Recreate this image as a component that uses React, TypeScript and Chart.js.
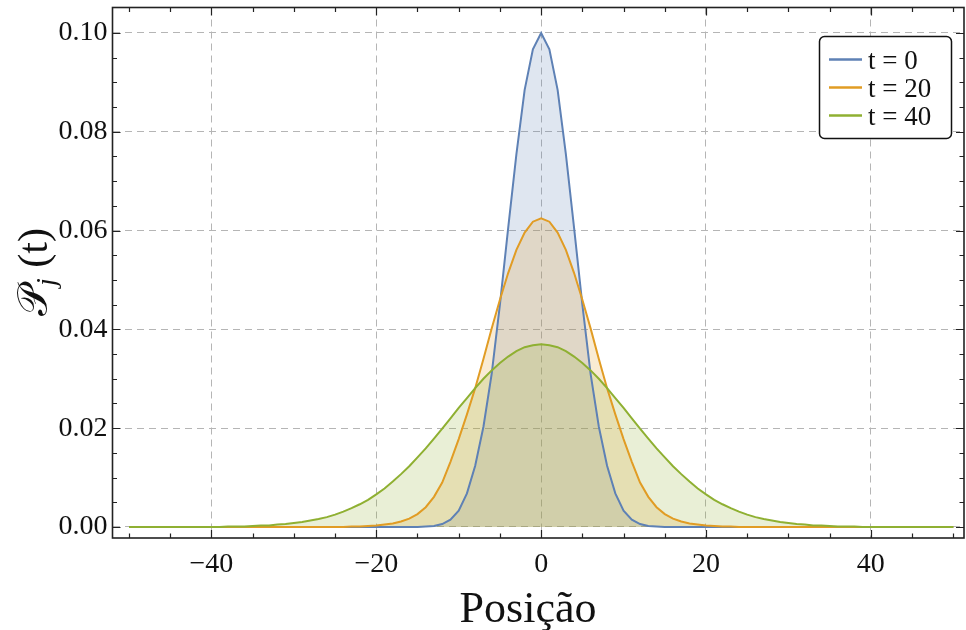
import React, { useEffect, useRef } from 'react';
import { Chart, registerables } from 'chart.js';

Chart.register(...registerables);

// ---------- data ----------
const positions = [
  -50, -49, -48, -47, -46, -45, -44, -43, -42, -41,
  -40, -39, -38, -37, -36, -35, -34, -33, -32, -31,
  -30, -29, -28, -27, -26, -25, -24, -23, -22, -21,
  -20, -19, -18, -17, -16, -15, -14, -13, -12, -11,
  -10, -9, -8, -7, -6, -5, -4, -3, -2, -1,
  0,
  1, 2, 3, 4, 5, 6, 7, 8, 9, 10,
  11, 12, 13, 14, 15, 16, 17, 18, 19, 20,
  21, 22, 23, 24, 25, 26, 27, 28, 29, 30,
  31, 32, 33, 34, 35, 36, 37, 38, 39, 40,
  41, 42, 43, 44, 45, 46, 47, 48, 49, 50,
];

const seriesLabels = ['t = 0', 't = 20', 't = 40'];

// t = 0
const probT0 = [
  0, 0, 0, 0, 0, 0, 0, 0, 0, 0,
  0, 0, 0, 0, 0, 0, 0, 0, 0, 0,
  0, 0, 0, 0, 0, 0, 0, 0, 0, 0,
  0, 0, 0, 0, 0, 0,
  0.0001, 0.0002, 0.0006, 0.0015, 0.0033, 0.0068, 0.0124, 0.0203, 0.0310, 0.0450, 0.0605, 0.0755, 0.0885, 0.0967,
  0.1000,
  0.0967, 0.0885, 0.0755, 0.0605, 0.0450, 0.0310, 0.0203, 0.0124, 0.0068, 0.0033, 0.0015, 0.0006, 0.0002, 0.0001,
  0, 0, 0, 0, 0, 0,
  0, 0, 0, 0, 0, 0, 0, 0, 0, 0,
  0, 0, 0, 0, 0, 0, 0, 0, 0, 0,
  0, 0, 0, 0, 0, 0, 0, 0, 0, 0,
];

// t = 20
const probT20 = [
  0, 0, 0, 0, 0, 0, 0, 0, 0, 0,
  0, 0, 0, 0, 0, 0, 0, 0, 0, 0,
  0, 0, 0, 0, 0, 0, 0,
  0.0001, 0.0001, 0.0002, 0.0003, 0.0005, 0.0007, 0.0011, 0.0017, 0.0026, 0.0040, 0.0061, 0.0090, 0.0132, 0.0178, 0.0228,
  0.0281, 0.0340, 0.0402, 0.0460, 0.0514, 0.0561, 0.0596, 0.0618,
  0.0625,
  0.0618, 0.0596, 0.0561, 0.0514, 0.0460, 0.0402, 0.0340, 0.0281,
  0.0228, 0.0178, 0.0132, 0.0090, 0.0061, 0.0040, 0.0026, 0.0017, 0.0011, 0.0007, 0.0005, 0.0003, 0.0002, 0.0001, 0.0001,
  0, 0, 0, 0, 0, 0, 0,
  0, 0, 0, 0, 0, 0, 0, 0, 0, 0,
  0, 0, 0, 0, 0, 0, 0, 0, 0, 0,
];

// t = 40
const probT40 = [
  0, 0, 0, 0, 0, 0, 0, 0, 0, 0, 0, 0,
  0.0001, 0.0001, 0.0001, 0.0002, 0.0003, 0.0003, 0.0005, 0.0006, 0.0008, 0.0010,
  0.0013, 0.0016, 0.0020, 0.0025, 0.0031, 0.0038, 0.0046, 0.0055, 0.0066, 0.0078,
  0.0092, 0.0107, 0.0123, 0.0141, 0.0159, 0.0179, 0.0199, 0.0220, 0.0241, 0.0261,
  0.0281, 0.0300, 0.0317, 0.0332, 0.0345, 0.0356, 0.0364, 0.0368,
  0.0370,
  0.0368, 0.0364, 0.0356, 0.0345, 0.0332, 0.0317, 0.0300, 0.0281,
  0.0261, 0.0241, 0.0220, 0.0199, 0.0179, 0.0159, 0.0141, 0.0123, 0.0107, 0.0092,
  0.0078, 0.0066, 0.0055, 0.0046, 0.0038, 0.0031, 0.0025, 0.0020, 0.0016, 0.0013,
  0.0010, 0.0008, 0.0006, 0.0005, 0.0003, 0.0003, 0.0002, 0.0001, 0.0001, 0.0001,
  0, 0, 0, 0, 0, 0, 0, 0, 0, 0, 0, 0,
];

const xTickValues = [-40, -20, 0, 20, 40];
const xMinorTickValues = [-50, -45, -35, -30, -25, -15, -10, -5, 5, 10, 15, 25, 30, 35, 45, 50];
const yTickValues = [0, 0.02, 0.04, 0.06, 0.08, 0.1];
const yMinorTickValues = [
  0.005, 0.01, 0.015, 0.025, 0.03, 0.035, 0.045, 0.05, 0.055,
  0.065, 0.07, 0.075, 0.085, 0.09, 0.095,
];

const xTitle = 'Posição';
const yTitleMain = '\u{1D4AB}';
const yTitleSub = 'j';
const yTitleTail = ' (t)';

const lineColors = ['#5E81B5', '#E19C24', '#8FB032'];
const fillColors = ['rgba(94,129,181,0.2)', 'rgba(225,156,36,0.2)', 'rgba(143,176,50,0.2)'];

const SERIF = "'Liberation Serif', 'DejaVu Serif', serif";

const decorPlugin = {
  id: 'decor',
  afterDraw(chart: any) {
    const { ctx, chartArea } = chart;
    const xs = chart.scales.x;
    const ys = chart.scales.y;
    const { left, right, top, bottom } = chartArea;
    ctx.save();

    // frame ticks (inward, all four sides)
    ctx.strokeStyle = '#222';
    ctx.lineWidth = 1.2;
    const majorLen = 8;
    const minorLen = 4.5;
    const drawX = (v: number, len: number) => {
      const px = Math.round(xs.getPixelForValue(v)) + 0.5;
      ctx.beginPath();
      ctx.moveTo(px, bottom);
      ctx.lineTo(px, bottom - len);
      ctx.moveTo(px, top);
      ctx.lineTo(px, top + len);
      ctx.stroke();
    };
    const drawY = (v: number, len: number) => {
      const py = Math.round(ys.getPixelForValue(v)) + 0.5;
      if (py < top || py > bottom) return;
      ctx.beginPath();
      ctx.moveTo(left, py);
      ctx.lineTo(left + len, py);
      ctx.moveTo(right, py);
      ctx.lineTo(right - len, py);
      ctx.stroke();
    };
    xTickValues.forEach((v) => drawX(v, majorLen));
    xMinorTickValues.forEach((v) => drawX(v, minorLen));
    yTickValues.forEach((v) => drawY(v, majorLen));
    yMinorTickValues.forEach((v) => drawY(v, minorLen));

    // frame
    ctx.lineWidth = 1.6;
    ctx.strokeRect(left, top, right - left, bottom - top);

    // legend
    const bx = 819.5, by = 36.5, bw = 132, bh = 102, r = 5;
    ctx.beginPath();
    ctx.moveTo(bx + r, by);
    ctx.lineTo(bx + bw - r, by);
    ctx.arcTo(bx + bw, by, bx + bw, by + r, r);
    ctx.lineTo(bx + bw, by + bh - r);
    ctx.arcTo(bx + bw, by + bh, bx + bw - r, by + bh, r);
    ctx.lineTo(bx + r, by + bh);
    ctx.arcTo(bx, by + bh, bx, by + bh - r, r);
    ctx.lineTo(bx, by + r);
    ctx.arcTo(bx, by, bx + r, by, r);
    ctx.closePath();
    ctx.fillStyle = '#ffffff';
    ctx.fill();
    ctx.strokeStyle = '#111';
    ctx.lineWidth = 1.5;
    ctx.stroke();
    seriesLabels.forEach((lab, i) => {
      const cy = 59.5 + i * 28;
      ctx.strokeStyle = lineColors[i];
      ctx.lineWidth = 2.5;
      ctx.beginPath();
      ctx.moveTo(829, cy);
      ctx.lineTo(862, cy);
      ctx.stroke();
      ctx.fillStyle = '#111';
      ctx.font = `27px ${SERIF}`;
      ctx.textAlign = 'left';
      ctx.textBaseline = 'alphabetic';
      ctx.fillText(lab, 868, cy + 9);
    });

    // x title
    ctx.fillStyle = '#111';
    ctx.font = `44px ${SERIF}`;
    ctx.textAlign = 'center';
    ctx.textBaseline = 'alphabetic';
    ctx.fillText(xTitle, 528, 622);

    // y title (rotated)
    ctx.save();
    ctx.translate(33, 272);
    ctx.rotate(-Math.PI / 2);
    const mainFont = `42px 'DejaVu Serif', 'DejaVu Sans', ${SERIF}`;
    const subFont = `italic 28px ${SERIF}`;
    const tailFont = `42px ${SERIF}`;
    ctx.font = mainFont;
    const w1 = ctx.measureText(yTitleMain).width;
    ctx.font = subFont;
    const w2 = ctx.measureText(yTitleSub).width;
    ctx.font = tailFont;
    const w3 = ctx.measureText(yTitleTail).width;
    let cx = -(w1 + w2 + w3) / 2;
    ctx.textAlign = 'left';
    ctx.textBaseline = 'alphabetic';
    ctx.fillStyle = '#111';
    ctx.font = mainFont;
    ctx.fillText(yTitleMain, cx, 14);
    cx += w1;
    ctx.font = subFont;
    ctx.fillText(yTitleSub, cx, 22);
    cx += w2;
    ctx.font = tailFont;
    ctx.fillText(yTitleTail, cx, 14);
    ctx.restore();

    ctx.restore();
  },
};

export default function App() {
  const canvasRef = useRef<HTMLCanvasElement | null>(null);

  useEffect(() => {
    document.body.style.margin = '0';
    const canvas = canvasRef.current;
    if (!canvas) return;
    const series = [probT0, probT20, probT40];
    const chart = new Chart(canvas, {
      type: 'line',
      data: {
        datasets: series.map((vals, i) => ({
          label: seriesLabels[i],
          data: positions.map((x, k) => ({ x, y: vals[k] })),
          borderColor: lineColors[i],
          backgroundColor: fillColors[i],
          borderWidth: 2,
          pointRadius: 0,
          tension: 0,
          fill: 'origin',
          order: 2 - i,
        })),
      },
      options: {
        responsive: false,
        animation: false,
        devicePixelRatio: 1,
        layout: { padding: { left: 0, top: 7.5, right: 2, bottom: 0 } },
        plugins: {
          legend: { display: false },
          tooltip: { enabled: false },
          filler: { drawTime: 'beforeDatasetsDraw' },
        },
        scales: {
          x: {
            type: 'linear',
            min: -52,
            max: 51.3,
            afterBuildTicks: (s: any) => {
              s.ticks = xTickValues.map((v) => ({ value: v }));
            },
            afterFit: (s: any) => {
              s.height = 92;
              s.paddingLeft = 0;
              s.paddingRight = 0;
            },
            ticks: {
              autoSkip: false,
              maxRotation: 0,
              padding: 10,
              color: '#111',
              font: { family: SERIF, size: 28 },
              callback: (v: any) => (Number(v) < 0 ? '\u2212' + Math.abs(Number(v)) : String(v)),
            },
            grid: { color: '#b5b5b5', lineWidth: 1, drawTicks: false },
            border: { display: false, dash: [7, 5] },
          },
          y: {
            type: 'linear',
            min: -0.00223,
            max: 0.10516,
            afterBuildTicks: (s: any) => {
              s.ticks = yTickValues.map((v) => ({ value: v }));
            },
            afterFit: (s: any) => {
              s.width = 112.5;
              s.paddingTop = 0;
              s.paddingBottom = 0;
            },
            ticks: {
              padding: 5,
              color: '#111',
              font: { family: SERIF, size: 28 },
              callback: (v: any) => Number(v).toFixed(2),
            },
            grid: { color: '#b5b5b5', lineWidth: 1, drawTicks: false },
            border: { display: false, dash: [7, 5] },
          },
        },
      },
      plugins: [decorPlugin],
    } as any);
    return () => chart.destroy();
  }, []);

  return (
    <canvas
      ref={canvasRef}
      width={966}
      height={630}
      style={{ display: 'block', width: '966px', height: '630px' }}
    />
  );
}
